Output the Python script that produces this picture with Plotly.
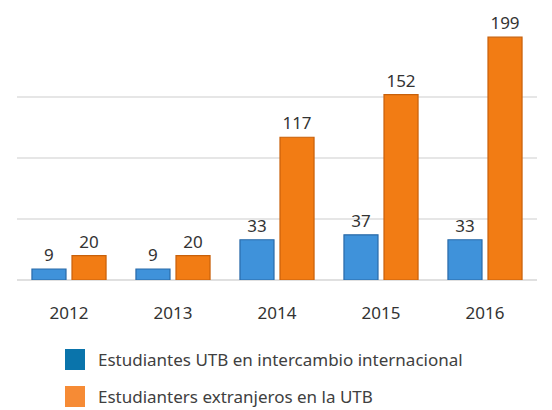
import plotly.graph_objects as go

# data
years = ['2012', '2013', '2014', '2015', '2016']
utb_exchange = [9, 9, 33, 37, 33]
foreign_students = [20, 20, 117, 152, 199]
series_names = ['Estudiantes UTB en intercambio internacional',
                'Estudianters extranjeros en la UTB']

W, H = 552, 410
PLOT_L, PLOT_R, PLOT_T, PLOT_B = 17, 537, 36, 280
FONT = 'Noto Sans, Open Sans, sans-serif'


def px_x(x):
    return (x - PLOT_L) / (PLOT_R - PLOT_L)


def px_y(y):
    return (PLOT_B - y) / (PLOT_B - PLOT_T)


fig = go.Figure()
fig.add_trace(go.Bar(
    x=years, y=utb_exchange, name=series_names[0],
    marker=dict(color='#3f92da', line=dict(width=1.2, color='#2a6aa8')),
    text=utb_exchange, textposition='outside', cliponaxis=False,
    textfont=dict(size=17, color='#333333', family=FONT),
    showlegend=False,
))
fig.add_trace(go.Bar(
    x=years, y=foreign_students, name=series_names[1],
    marker=dict(color='#f27c14', line=dict(width=1.2, color='#c8600a')),
    text=foreign_students, textposition='outside', cliponaxis=False,
    textfont=dict(size=17, color='#333333', family=FONT),
    showlegend=False,
))

# manual legend below the chart (big squares like the original)
legend_colors = ['#0a74ab', '#f68b35']
legend_rows = [(349, 370), (386, 407)]
shapes, annotations = [], []
for name, col, (y0, y1) in zip(series_names, legend_colors, legend_rows):
    shapes.append(dict(type='rect', xref='paper', yref='paper',
                       x0=px_x(65), x1=px_x(85), y0=px_y(y1), y1=px_y(y0),
                       fillcolor=col, line=dict(width=0)))
    annotations.append(dict(xref='paper', yref='paper', x=px_x(96),
                            y=px_y((y0 + y1) / 2), xanchor='left', yanchor='middle',
                            text=name, showarrow=False,
                            font=dict(size=17, color='#404040', family=FONT)))

fig.update_layout(
    width=W, height=H,
    barmode='group', bargap=0.23, bargroupgap=0.15,
    paper_bgcolor='white', plot_bgcolor='white',
    font=dict(family=FONT, color='#333333'),
    margin=dict(l=PLOT_L, r=W - PLOT_R, t=PLOT_T, b=H - PLOT_B),
    xaxis=dict(showgrid=False, showline=False, ticks='',
               tickfont=dict(size=17, color='#333333'),
               ticklabelstandoff=21),
    yaxis=dict(range=[0, 200], dtick=50, showticklabels=False,
               gridcolor='#e6e6e6', gridwidth=1.5,
               zeroline=True, zerolinecolor='#e0e0e0', zerolinewidth=1.5),
    shapes=shapes, annotations=annotations,
)

# the page has a default 8px body margin; drop it so the figure fills the window
fig.write_html('out.html', config={'displayModeBar': False},
               post_script="document.body.style.margin='0';document.body.style.overflow='hidden';")
